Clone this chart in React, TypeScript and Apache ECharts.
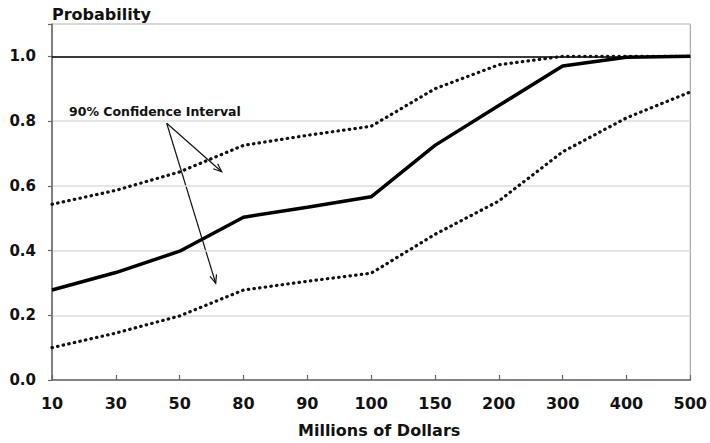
import React, { useEffect, useRef } from "react";
import * as echarts from "echarts";

const categories = ["10", "30", "50", "80", "90", "100", "150", "200", "300", "400", "500"];
const expected = [0.278, 0.332, 0.398, 0.503, 0.534, 0.566, 0.725, 0.848, 0.97, 0.997, 1.0];
const upper = [0.543, 0.586, 0.643, 0.725, 0.756, 0.784, 0.9, 0.974, 1.0, 1.0, 1.0];
const lower = [0.1, 0.145, 0.198, 0.278, 0.305, 0.33, 0.45, 0.553, 0.705, 0.81, 0.89];
const yTickLabels = ["0.0", "0.2", "0.4", "0.6", "0.8", "1.0"];
const annotationText = "90% Confidence Interval";

const FONT = "'DejaVu Sans', Verdana, sans-serif";

function arrow(x1: number, y1: number, x2: number, y2: number) {
  const ang = Math.atan2(y2 - y1, x2 - x1);
  const L = 9;
  const a = (22 * Math.PI) / 180;
  const p1 = [x2 - L * Math.cos(ang - a), y2 - L * Math.sin(ang - a)];
  const p2 = [x2 - L * Math.cos(ang + a), y2 - L * Math.sin(ang + a)];
  return [
    { type: "line", shape: { x1, y1, x2, y2 }, style: { stroke: "#111", lineWidth: 1.2 }, silent: true },
    { type: "polyline", shape: { points: [p1, [x2, y2], p2] }, style: { stroke: "#111", lineWidth: 1.2, fill: null }, silent: true },
  ];
}

export default function App() {
  const ref = useRef<HTMLDivElement>(null);
  useEffect(() => {
    document.body.style.margin = "0";
    if (!ref.current) return;
    const chart = echarts.init(ref.current, null, { renderer: "svg" });
    const dotted = { color: "#111", width: 3.2, type: [0.5, 5.2] as any, cap: "round" as any };
    chart.setOption({
      animation: false,
      backgroundColor: "#fff",
      grid: { left: 52, right: 18, top: 24, bottom: 59, show: true, borderColor: "#999", borderWidth: 1 },
      xAxis: {
        type: "category",
        data: categories,
        boundaryGap: false,
        name: "Millions of Dollars",
        nameLocation: "middle",
        nameGap: 42,
        nameTextStyle: { fontFamily: FONT, fontWeight: "bold", fontSize: 16, color: "#111", padding: [0, 0, 0, 16] },
        axisLine: { lineStyle: { color: "#666", width: 1.5 } },
        axisTick: { inside: true, length: 5, lineStyle: { color: "#666", width: 1.2 } },
        axisLabel: { fontFamily: FONT, fontWeight: "bold", fontSize: 16, color: "#111", margin: 15 },
        splitLine: { show: false },
      },
      yAxis: {
        type: "value",
        min: 0,
        max: 1.1,
        interval: 0.2,
        axisLine: { show: true, lineStyle: { color: "#666", width: 1.5 } },
        axisTick: { show: true, length: 4, lineStyle: { color: "#666", width: 1.2 } },
        axisLabel: {
          fontFamily: FONT,
          fontWeight: "bold",
          fontSize: 15,
          color: "#111",
          margin: 16,
          formatter: (v: number) => {
            const idx = Math.round(v / 0.2);
            return v > 1.05 ? "" : yTickLabels[idx] ?? "";
          },
        },
        splitLine: { show: true, lineStyle: { color: "#ddd", width: 1.5 } },
      },
      series: [
        {
          type: "line",
          data: upper,
          symbol: "none",
          lineStyle: dotted,
          z: 3,
        },
        {
          type: "line",
          data: lower,
          symbol: "none",
          lineStyle: dotted,
          z: 3,
        },
        {
          type: "line",
          data: expected,
          symbol: "none",
          lineStyle: { color: "#000", width: 3.5 },
          z: 4,
          markLine: {
            silent: true,
            symbol: "none",
            label: { show: false },
            lineStyle: { color: "#000", width: 1.5, type: "solid" },
            data: [{ yAxis: 1.0 }],
            z: 2,
          },
        },
      ],
      graphic: [
        {
          type: "text",
          x: 52,
          y: 14,
          style: { text: "Probability", fontFamily: FONT, fontWeight: "bold", fontSize: 16, fill: "#111", verticalAlign: "middle" },
        },
        {
          type: "text",
          x: 69,
          y: 111,
          style: { text: annotationText, fontFamily: FONT, fontWeight: "bold", fontSize: 12.5, fill: "#111", verticalAlign: "middle" },
        },
        ...arrow(166.7, 123.3, 221.7, 171.7),
        ...arrow(166.7, 123.3, 215.7, 283.3),
      ],
    });
    return () => chart.dispose();
  }, []);
  return <div ref={ref} style={{ width: 710, height: 443 }} />;
}
